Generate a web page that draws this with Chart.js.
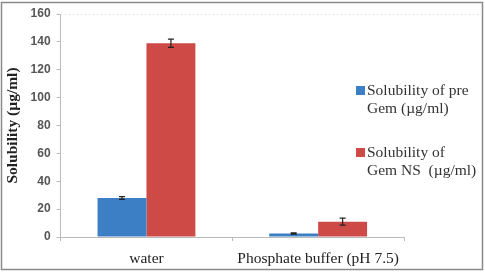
<!DOCTYPE html>
<html><head><meta charset="utf-8">
<script src="https://cdn.jsdelivr.net/npm/chart.js@4/dist/chart.umd.min.js"></script>
<style>html,body{margin:0;padding:0;background:#fff}#w{width:485px;height:272px;position:relative}</style>
</head><body><div id="w"><canvas id="c" width="485" height="272"></canvas></div>
<script>
const categories = ["water", "Phosphate buffer (pH 7.5)"];
const preGem = [28, 2.5];
const preGemErr = [1, 0.5];
const gemNS = [139, 11];
const gemNSErr = [3, 2.5];
const seriesLabels = [["Solubility of pre", "Gem (µg/ml)"], ["Solubility of", "Gem NS  (µg/ml)"]];
const yTicks = [0, 20, 40, 60, 80, 100, 120, 140, 160];
const colors = ["#3d7fc4", "#cd4a47"];

const errPlugin = {
  id: 'err',
  afterDatasetsDraw(chart) {
    const ctx = chart.ctx, y = chart.scales.y;
    const errs = [preGemErr, gemNSErr];
    chart.data.datasets.forEach((ds, i) => {
      const meta = chart.getDatasetMeta(i);
      meta.data.forEach((bar, j) => {
        const v = ds.data[j], e = errs[i][j];
        const yt = y.getPixelForValue(v + e), yb = y.getPixelForValue(v - e);
        ctx.save();
        ctx.strokeStyle = '#222'; ctx.lineWidth = 1.2;
        ctx.beginPath();
        ctx.moveTo(bar.x, yt); ctx.lineTo(bar.x, yb);
        ctx.moveTo(bar.x - 3, yt); ctx.lineTo(bar.x + 3, yt);
        ctx.moveTo(bar.x - 3, yb); ctx.lineTo(bar.x + 3, yb);
        ctx.stroke(); ctx.restore();
      });
    });
  }
};
const framePlugin = {
  id: 'frame',
  afterDraw(chart) {
    const ctx = chart.ctx, a = chart.chartArea;
    ctx.save();
    ctx.strokeStyle = '#8a8a8a'; ctx.lineWidth = 1.5;
    ctx.strokeRect(1.5, 2.5, 481, 267);
    ctx.strokeStyle = '#e8e8e8'; ctx.lineWidth = 1; ctx.setLineDash([2, 2]);
    ctx.beginPath(); ctx.moveTo(a.left, a.top + 0.5); ctx.lineTo(482, a.top + 0.5); ctx.stroke();
    ctx.setLineDash([]);
    ctx.font = '15.5px "Liberation Serif"'; ctx.textBaseline = 'middle';
    const lx = 356, ly = [90, 152];
    chart.data.datasets.forEach((ds, i) => {
      ctx.fillStyle = ds.backgroundColor;
      ctx.fillRect(lx, ly[i] - 4, 9, 9);
      ctx.fillStyle = '#333';
      seriesLabels[i].forEach((t, k) => ctx.fillText(t, lx + 11, ly[i] + 1 + k * 18));
    });
    ctx.restore();
  }
};

new Chart(document.getElementById('c'), {
  type: 'bar',
  data: {
    labels: categories,
    datasets: [
      { label: seriesLabels[0].join(' '), data: preGem, backgroundColor: colors[0] },
      { label: seriesLabels[1].join(' '), data: gemNS, backgroundColor: colors[1] }
    ]
  },
  options: {
    responsive: false, animation: false,
    layout: { padding: { left: 2, right: 81, top: 14, bottom: 0 } },
    datasets: { bar: { categoryPercentage: 0.57, barPercentage: 1 } },
    plugins: { legend: { display: false }, tooltip: { enabled: false } },
    scales: {
      x: {
        afterFit: s => { s.height = 35; },
        grid: { display: true, drawOnChartArea: false, offset: true, tickLength: 4, color: '#bbb' },
        border: { color: '#bbb' },
        ticks: { color: '#222', font: { family: 'Liberation Serif', size: 15.5 }, padding: 9 }
      },
      y: {
        min: 0, max: 160,
        afterBuildTicks: s => { s.ticks = yTicks.map(v => ({ value: v })); },
        grid: { display: true, drawOnChartArea: false, tickLength: 4, color: '#bbb' },
        border: { color: '#bbb' },
        ticks: { color: '#555', font: { family: 'Liberation Sans', size: 12, weight: 'bold' }, padding: 6 },
        title: { display: true, text: 'Solubility (µg/ml)', color: '#222', font: { family: 'Liberation Serif', size: 15.5, weight: 'bold' }, padding: 2 }
      }
    }
  },
  plugins: [errPlugin, framePlugin]
});
</script></body></html>
